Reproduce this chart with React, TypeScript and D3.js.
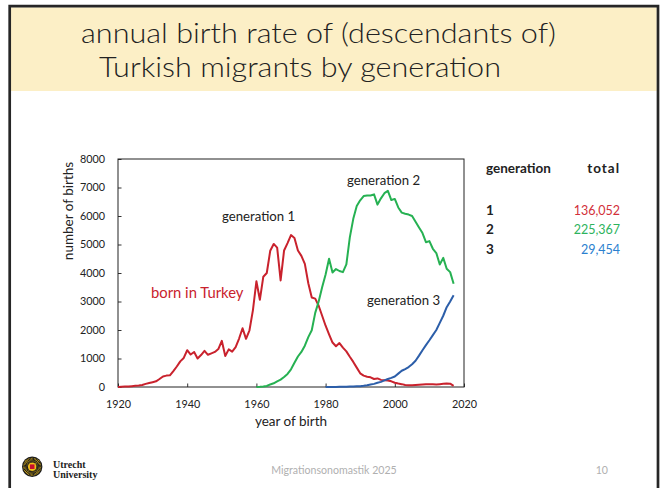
import React, { useEffect, useRef } from 'react'
import * as d3 from 'd3'

// births per year
const redYears = d3.range(1920, 2018)
const redValues = [
  0, 10, 15, 20, 30, 40, 50, 70, 110, 140,
  170, 200, 280, 370, 400, 410, 560, 720, 900, 1020,
  1290, 1140, 1230, 1000, 1120, 1270, 1130, 1180, 1230, 1330,
  1620, 1090, 1320, 1240, 1400, 1700, 2060, 1690, 1990, 2700,
  3710, 3060, 3870, 4000, 4780, 5020, 4890, 3740, 4790, 5050,
  5330, 5230, 4790, 4600, 4320, 3640, 3140, 3100, 2850, 2500,
  2150, 1850, 1560, 1430, 1540, 1380, 1250, 1060, 880, 680,
  480, 400, 360, 340, 280, 300, 250, 240, 230, 200,
  150, 120, 100, 70, 60, 60, 70, 80, 90, 100,
  100, 95, 90, 100, 110, 120, 115, 40,
]
const greenYears = d3.range(1960, 2018)
const greenValues = [
  0, 5, 15, 35, 90, 130, 200, 260, 350, 460,
  620, 850, 1070, 1230, 1450, 1750, 1990, 2600, 3000, 3500,
  3950, 4500, 4020, 4140, 4070, 4030, 4300, 5250, 5900, 6350,
  6550, 6700, 6720, 6720, 6760, 6400, 6620, 6800, 6880, 6560,
  6600, 6300, 6120, 6080, 6050, 6000, 5800, 5600, 5400, 5080,
  5120, 4850, 4700, 4300, 4530, 4150, 4030, 3620,
]
const blueYears = d3.range(1980, 2018)
const blueValues = [
  0, 0, 0, 0, 5, 10, 10, 15, 20, 25,
  30, 40, 60, 90, 110, 150, 180, 230, 280, 320,
  370, 470, 570, 630, 700, 800, 920, 1100, 1290, 1470,
  1640, 1820, 2000, 2250, 2500, 2800, 3000, 3220,
]

const xTicks = [1920, 1940, 1960, 1980, 2000, 2020]
const yTicks = [0, 1000, 2000, 3000, 4000, 5000, 6000, 7000, 8000]

const tableGenerations = ['1', '2', '3']
const tableTotals = ['136,052', '225,367', '29,454']
const tableColors = ['#d2303a', '#2db35d', '#2a80cf']

const FONT = 'Lato, "Open Sans", sans-serif'

export default function App() {
  const ref = useRef<SVGSVGElement>(null)

  useEffect(() => {
    const svg = d3.select(ref.current)
    svg.selectAll('*').remove()

    // slide frame
    svg.append('rect').attr('width', 666).attr('height', 488).attr('fill', '#fff')
    svg.append('rect').attr('x', 11).attr('y', 7.3).attr('width', 645.7).attr('height', 83.7).attr('fill', '#fcefc6')
    svg.append('path')
      .attr('d', 'M9.7,488 V6.2 H658 V488')
      .attr('fill', 'none').attr('stroke', '#262626').attr('stroke-width', 2.7)

    const title = svg.append('g').attr('font-family', FONT).attr('font-size', 27)
      .attr('font-weight', 300).attr('fill', '#222')
    title.append('text').attr('x', 81).attr('y', 43)
      .attr('textLength', 475).attr('lengthAdjust', 'spacingAndGlyphs')
      .text('annual birth rate of (descendants of)')
    title.append('text').attr('x', 99).attr('y', 77)
      .attr('textLength', 402).attr('lengthAdjust', 'spacingAndGlyphs')
      .text('Turkish migrants by generation')

    // chart
    const x = d3.scaleLinear().domain([1920, 2020]).range([118, 464])
    const y = d3.scaleLinear().domain([0, 8000]).range([387, 159])

    const xAxis = svg.append('g').attr('transform', 'translate(0,387)')
      .call(d3.axisBottom(x).tickValues(xTicks).tickFormat(d3.format('d')).tickSizeInner(-3.5).tickSizeOuter(0).tickPadding(13))
    const yAxis = svg.append('g').attr('transform', 'translate(118,0)')
      .call(d3.axisLeft(y).tickValues(yTicks).tickFormat(d3.format('d')).tickSizeInner(-3.5).tickSizeOuter(0).tickPadding(13))
    ;[xAxis, yAxis].forEach(a => {
      a.select('.domain').remove()
      a.selectAll('line').attr('stroke', '#333')
      a.selectAll('text').attr('font-family', FONT).attr('font-size', 10.8).attr('fill', '#222')
    })

    svg.append('rect').attr('x', 118).attr('y', 159).attr('width', 346).attr('height', 228)
      .attr('fill', 'none').attr('stroke', '#222').attr('stroke-width', 1)

    const line = d3.line<[number, number]>().x(d => x(d[0])).y(d => y(d[1]))
    const series: [number[], number[], string][] = [
      [redYears, redValues, '#c9222d'],
      [greenYears, greenValues, '#26b152'],
      [blueYears, blueValues, '#2c5ea9'],
    ]
    series.forEach(([yrs, vals, col]) => {
      svg.append('path')
        .datum(yrs.map((yr, i) => [yr, vals[i]] as [number, number]))
        .attr('d', line)
        .attr('fill', 'none').attr('stroke', col).attr('stroke-width', 2)
        .attr('stroke-linejoin', 'round')
    })

    const notes = svg.append('g').attr('font-family', FONT).attr('font-size', 13.2).attr('fill', '#222')
    notes.append('text').attr('x', 222).attr('y', 221).text('generation 1')
    notes.append('text').attr('x', 347).attr('y', 185).text('generation 2')
    notes.append('text').attr('x', 367).attr('y', 305).text('generation 3')
    notes.append('text').attr('x', 151).attr('y', 298).attr('font-size', 14.8).attr('fill', '#c9222d').text('born in Turkey')

    svg.append('text').attr('font-family', FONT).attr('font-size', 13.5).attr('fill', '#222')
      .attr('text-anchor', 'middle').attr('transform', 'translate(73,211) rotate(-90)')
      .text('number of births')
    svg.append('text').attr('font-family', FONT).attr('font-size', 13.5).attr('fill', '#222')
      .attr('text-anchor', 'middle').attr('x', 291).attr('y', 426)
      .text('year of birth')

    // totals table
    const tbl = svg.append('g').attr('font-family', FONT).attr('font-size', 12.5).attr('fill', '#222')
    tbl.append('text').attr('x', 486).attr('y', 173).attr('font-weight', 'bold').attr('font-size', 13.5).text('generation')
    tbl.append('text').attr('x', 620).attr('y', 173).attr('font-weight', 'bold').attr('font-size', 13.5)
      .attr('letter-spacing', 1).attr('text-anchor', 'end').text('total')
    tableGenerations.forEach((g, i) => {
      const yy = 214.5 + i * 19.7
      tbl.append('text').attr('x', 486).attr('y', yy).attr('font-weight', 'bold').attr('font-size', 13.5).text(g)
      tbl.append('text').attr('x', 620).attr('y', yy).attr('text-anchor', 'end').attr('fill', tableColors[i]).text(tableTotals[i])
    })

    // footer
    const logo = svg.append('g').attr('transform', 'translate(32.2,466.7)')
    logo.append('circle').attr('r', 10.2).attr('fill', '#1a1a1a')
    logo.append('circle').attr('r', 9).attr('fill', '#f2c21a')
    d3.range(0, 360, 10).forEach(a => {
      const r = (a * Math.PI) / 180
      logo.append('line')
        .attr('x1', Math.cos(r) * 4.2).attr('y1', Math.sin(r) * 4.2)
        .attr('x2', Math.cos(r) * 9).attr('y2', Math.sin(r) * 9)
        .attr('stroke', '#1a1a1a').attr('stroke-width', 1)
    })
    logo.append('circle').attr('r', 3.8).attr('fill', '#f2c21a')
    logo.append('rect').attr('x', -2.3).attr('y', -2.3).attr('width', 4.6).attr('height', 4.6).attr('fill', '#c8102e')
    const ut = svg.append('g').attr('font-family', '"Liberation Serif", serif').attr('font-weight', 'bold').attr('font-size', 10).attr('fill', '#222')
    ut.append('text').attr('x', 53).attr('y', 467.5).text('Utrecht')
    ut.append('text').attr('x', 53).attr('y', 477.5).text('University')

    svg.append('text').attr('font-family', FONT).attr('font-size', 10.6).attr('fill', '#b0b0b0')
      .attr('text-anchor', 'middle').attr('x', 334).attr('y', 474).text('Migrationsonomastik 2025')
    svg.append('text').attr('font-family', FONT).attr('font-size', 10.6).attr('fill', '#b0b0b0')
      .attr('text-anchor', 'end').attr('x', 608).attr('y', 474).text('10')
  }, [])

  return (
    <div style={{ position: 'absolute', left: 0, top: 0 }}>
      <svg ref={ref} width={666} height={488} style={{ display: 'block' }} />
    </div>
  )
}
